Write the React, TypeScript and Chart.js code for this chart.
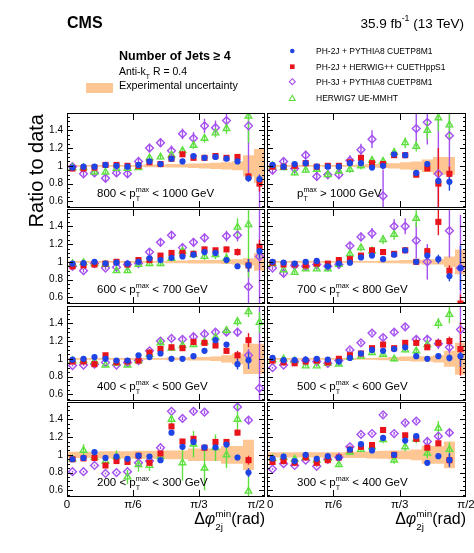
import React, { useEffect, useRef } from 'react';
import { Chart, registerables } from 'chart.js';

Chart.register(...registerables);

const W = 474;
const H = 553;
const FONT = '"Liberation Sans", Arial, Helvetica, sans-serif';

// ---------- axes ----------
const binEdgesDeg = [0, 5, 10, 15, 20, 25, 30, 35, 40, 45, 50, 55, 60, 65, 70, 75, 80, 85, 90];
const xTickValues = [0, Math.PI / 6, Math.PI / 3, Math.PI / 2];
const xTickLabels = ['0', 'π/6', 'π/3', 'π/2'];
const yTickValues = [0.6, 0.8, 1, 1.2, 1.4];
const yTickLabels = ['0.6', '0.8', '1', '1.2', '1.4'];
const Y_MIN = 0.525;
const Y_MAX = 1.595;

// ---------- 800 < pT < 1000 ----------
const blue_800 = [0.98, 0.99, 0.99, 1.01, 1.0, 0.99, 1.01, 1.05, 1.02, 1.08, 1.05, 1.11, 1.09, 1.10, 1.08, 1.05, 0.86, 0.85];
const red_800 = [0.97, 0.97, 0.98, 1.01, 1.01, 1.0, 1.0, 1.04, 1.02, 1.08, 1.13, 1.09, 1.09, 1.11, 1.09, 1.10, 0.88, 0.80];
const purple_800 = [0.99, 0.91, 0.92, 0.86, 0.92, 0.91, 1.05, 1.20, 1.26, 1.17, 1.36, 1.31, 1.45, 1.43, 1.51, null, 1.45, 0.45];
const green_800 = [0.98, 0.98, 0.93, 0.93, 0.97, 0.97, 0.98, 1.09, 1.10, 1.12, 1.17, 1.23, 1.31, 1.37, 1.42, null, 1.56, null];
const eBlue_800 = [0.01, 0.01, 0.01, 0.01, 0.01, 0.01, 0.01, 0.01, 0.015, 0.015, 0.015, 0.02, 0.02, 0.02, 0.02, 0.02, 0.04, 0.05];
const eRed_800 = [0.01, 0.01, 0.01, 0.01, 0.01, 0.01, 0.01, 0.01, 0.015, 0.015, 0.015, 0.02, 0.02, 0.02, 0.02, 0.02, 0.04, 0.09];
const ePurple_800 = [0.02, 0.03, 0.03, 0.04, 0.04, 0.04, 0.04, 0.05, 0.05, 0.06, 0.06, 0.07, 0.08, 0.08, 0.09, 0, 0.6, 0.45];
const eGreen_800 = [0.02, 0.02, 0.02, 0.02, 0.02, 0.02, 0.02, 0.03, 0.03, 0.04, 0.04, 0.04, 0.05, 0.05, 0.06, 0, 0.3, 0];
const band_800 = [0.01, 0.01, 0.01, 0.01, 0.01, 0.01, 0.01, 0.015, 0.015, 0.02, 0.02, 0.025, 0.03, 0.035, 0.04, 0.05, 0.12, 0.19];

// ---------- pT > 1000 ----------
const blue_1000 = [1.01, 0.99, 1.02, 1.03, 0.99, 0.99, 0.99, 1.03, 1.03, 0.98, 1.0, 1.13, 1.12, 0.92, 1.02, 0.83, 0.82, null];
const red_1000 = [0.99, 0.99, 1.0, 1.03, 0.99, 1.0, 1.0, 1.04, 1.09, 1.03, 1.02, 1.12, 1.12, 0.9, 0.97, 0.8, 0.91, null];
const purple_1000 = [0.95, 1.05, 0.97, 1.12, 0.88, 0.9, 0.9, 1.06, 1.18, 1.30, 0.66, null, null, 1.42, 1.49, 0.91, 1.34, null];
const green_1000 = [1.0, 0.98, 0.92, 0.95, 0.96, 0.9, 0.94, 0.96, 1.0, 1.06, 1.05, 1.15, 1.26, 1.22, 1.40, 1.54, 1.46, null];
const eBlue_1000 = [0.01, 0.01, 0.01, 0.01, 0.015, 0.015, 0.015, 0.015, 0.02, 0.02, 0.02, 0.02, 0.02, 0.025, 0.03, 0.04, 0.1, 0];
const eRed_1000 = [0.01, 0.01, 0.01, 0.01, 0.015, 0.015, 0.015, 0.015, 0.02, 0.02, 0.02, 0.02, 0.02, 0.025, 0.03, 0.4, 0.08, 0];
const ePurple_1000 = [0.04, 0.04, 0.04, 0.05, 0.05, 0.05, 0.05, 0.06, 0.07, 0.1, 0.3, 0, 0, 0.2, 0.25, 0.8, 0.4, 0];
const eGreen_1000 = [0.03, 0.03, 0.03, 0.03, 0.03, 0.03, 0.03, 0.04, 0.04, 0.05, 0.05, 0.05, 0.06, 0.06, 0.1, 0.15, 0.15, 0];
const band_1000 = [0.01, 0.01, 0.01, 0.01, 0.01, 0.01, 0.01, 0.01, 0.015, 0.02, 0.025, 0.03, 0.04, 0.05, 0.07, 0.1, 0.1, null];

// ---------- 600 < pT < 700 ----------
const blue_600 = [0.98, 0.985, 1.0, 0.98, 0.99, 0.98, 1.0, 1.04, 1.02, 1.045, 1.06, 1.08, 1.11, 1.10, 1.02, 0.95, 0.96, 1.12];
const red_600 = [0.95, 0.96, 0.97, 0.98, 1.0, 0.97, 1.02, 1.02, 1.07, 1.10, 1.10, 1.09, 1.14, 1.13, 1.14, 1.11, 0.96, 1.17];
const purple_600 = [0.95, 0.9, 0.98, 0.93, 0.94, 0.97, 0.98, 1.11, 1.22, 1.30, 1.16, 1.22, 1.27, null, 1.29, 1.30, 0.72, 1.06];
const green_600 = [0.98, 0.99, 0.98, 0.97, 0.9, 0.9, 0.97, 0.98, 0.98, 1.04, 1.12, 1.08, 1.06, 1.08, 1.04, 1.39, 1.42, null];
const eBlue_600 = [0.01, 0.01, 0.01, 0.01, 0.01, 0.01, 0.01, 0.015, 0.015, 0.015, 0.015, 0.02, 0.02, 0.02, 0.02, 0.03, 0.07, 0.08];
const eRed_600 = [0.01, 0.01, 0.01, 0.01, 0.01, 0.01, 0.01, 0.015, 0.015, 0.015, 0.015, 0.02, 0.02, 0.02, 0.03, 0.04, 0.07, 0.08];
const ePurple_600 = [0.02, 0.02, 0.02, 0.02, 0.03, 0.03, 0.03, 0.04, 0.04, 0.04, 0.05, 0.05, 0.05, 0, 0.06, 0.07, 0.25, 0.6];
const eGreen_600 = [0.02, 0.02, 0.02, 0.02, 0.02, 0.02, 0.02, 0.03, 0.03, 0.03, 0.04, 0.04, 0.04, 0.05, 0.06, 0.1, 0.6, 0];
const band_600 = [0.01, 0.01, 0.01, 0.01, 0.01, 0.01, 0.01, 0.01, 0.01, 0.015, 0.015, 0.02, 0.02, 0.02, 0.025, 0.03, 0.04, 0.1];

// ---------- 700 < pT < 800 ----------
const blue_700 = [1.0, 0.99, 0.98, 1.0, 1.01, 0.95, 0.98, 0.99, 1.05, 1.07, 1.03, 1.08, 1.13, 1.0, 1.07, 1.03, 0.84, 0.93];
const red_700 = [0.99, 0.97, 0.97, 0.96, 0.98, 0.98, 1.02, 1.03, 1.07, 1.13, 1.11, 1.09, 1.13, 1.0, 1.12, 1.45, 0.90, 0.53];
const purple_700 = [0.93, 0.87, 0.96, 0.95, 0.97, 0.95, 0.97, 1.18, 1.28, 1.32, null, 1.40, 1.40, 1.24, 1.0, null, 1.35, 0.93];
const green_700 = [0.98, 0.91, 0.88, 0.92, 0.92, 0.92, 0.97, 1.09, 1.16, 1.12, 1.25, 1.31, null, 1.49, null, null, null, null];
const eBlue_700 = [0.01, 0.01, 0.01, 0.01, 0.01, 0.015, 0.015, 0.015, 0.015, 0.02, 0.02, 0.02, 0.02, 0.03, 0.04, 0.05, 0.06, 0.25];
const eRed_700 = [0.01, 0.01, 0.01, 0.01, 0.01, 0.015, 0.015, 0.015, 0.015, 0.02, 0.02, 0.02, 0.02, 0.03, 0.04, 0.15, 0.06, 0.1];
const ePurple_700 = [0.02, 0.03, 0.03, 0.03, 0.03, 0.03, 0.04, 0.05, 0.05, 0.06, 0, 0.08, 0.09, 0.2, 0.2, 0, 0.3, 0.6];
const eGreen_700 = [0.02, 0.02, 0.02, 0.02, 0.02, 0.03, 0.03, 0.04, 0.04, 0.05, 0.05, 0.06, 0, 0.1, 0, 0, 0, 0];
const band_700 = [0.01, 0.01, 0.01, 0.01, 0.01, 0.01, 0.01, 0.01, 0.01, 0.01, 0.015, 0.015, 0.02, 0.02, 0.03, 0.03, 0.06, 0.14];

// ---------- 400 < pT < 500 ----------
const blue_400 = [0.99, 1.0, 1.02, 1.0, 0.98, 0.98, 1.04, 1.02, 1.06, 1.0, 1.0, 1.03, 1.09, 1.21, 1.16, 0.94, 0.985, null];
const red_400 = [0.97, 0.97, 0.94, 1.04, 0.96, 0.97, 0.98, 1.07, 1.11, 1.13, 1.12, 1.19, 1.18, 1.15, 1.09, 1.04, 1.21, null];
const purple_400 = [0.925, 0.93, 0.94, 0.96, 0.93, 0.96, 0.98, 1.09, 1.2, 1.23, 1.22, 1.25, 1.28, 1.3, 1.3, 1.3, 1.04, 0.67];
const green_400 = [0.98, 0.98, 0.97, 0.93, 0.95, 0.93, 0.98, 1.05, 1.18, 1.12, 1.15, 1.16, 1.19, 1.24, 1.32, 1.42, 1.53, 1.41];
const eBlue_400 = [0.01, 0.01, 0.01, 0.01, 0.01, 0.01, 0.01, 0.01, 0.015, 0.015, 0.015, 0.02, 0.02, 0.02, 0.03, 0.06, 0.1, 0];
const eRed_400 = [0.01, 0.01, 0.01, 0.01, 0.01, 0.01, 0.01, 0.01, 0.015, 0.015, 0.015, 0.02, 0.02, 0.02, 0.03, 0.05, 0.08, 0];
const ePurple_400 = [0.01, 0.01, 0.01, 0.01, 0.01, 0.02, 0.02, 0.02, 0.02, 0.02, 0.03, 0.03, 0.03, 0.03, 0.04, 0.05, 0.07, 0.95];
const eGreen_400 = [0.01, 0.01, 0.01, 0.01, 0.01, 0.02, 0.02, 0.02, 0.02, 0.03, 0.03, 0.03, 0.03, 0.04, 0.04, 0.05, 0.06, 0.12];
const band_400 = [0.01, 0.01, 0.01, 0.01, 0.01, 0.01, 0.01, 0.01, 0.01, 0.015, 0.015, 0.02, 0.02, 0.025, 0.04, 0.06, 0.17, 0.17];

// ---------- 500 < pT < 600 ----------
const blue_500 = [1.01, 0.985, 0.985, 0.99, 1.0, 0.99, 0.97, 1.01, 1.06, 1.1, 1.09, 1.11, 1.13, 1.03, 1.0, 1.03, 1.01, 1.03];
const red_500 = [0.98, 0.96, 0.95, 0.97, 0.98, 0.96, 1.0, 1.04, 1.06, 1.12, 1.16, 1.12, 1.18, 1.18, 1.13, 1.18, 1.2, 1.11];
const purple_500 = [0.9, 0.93, 0.97, 0.98, 0.97, 0.95, 0.98, 1.1, 1.18, 1.29, 1.24, 1.3, 1.36, 1.22, 1.22, 1.17, 1.13, 1.33];
const green_500 = [0.99, 1.0, 0.98, 0.92, 0.92, 0.95, 0.94, 1.02, 1.03, 1.07, 1.05, 1.0, 1.1, 1.09, 1.16, 1.4, 1.5, null];
const eBlue_500 = [0.01, 0.01, 0.01, 0.01, 0.01, 0.01, 0.01, 0.01, 0.01, 0.015, 0.015, 0.015, 0.02, 0.02, 0.02, 0.03, 0.04, 0.12];
const eRed_500 = [0.01, 0.01, 0.01, 0.01, 0.01, 0.01, 0.01, 0.01, 0.01, 0.015, 0.015, 0.015, 0.02, 0.02, 0.03, 0.04, 0.05, 0.3];
const ePurple_500 = [0.01, 0.01, 0.01, 0.01, 0.01, 0.02, 0.02, 0.02, 0.02, 0.02, 0.03, 0.03, 0.03, 0.04, 0.05, 0.06, 0.07, 0.3];
const eGreen_500 = [0.01, 0.01, 0.01, 0.01, 0.01, 0.02, 0.02, 0.02, 0.02, 0.02, 0.03, 0.03, 0.03, 0.04, 0.05, 0.06, 0.1, 0];
const band_500 = [0.01, 0.01, 0.01, 0.01, 0.01, 0.01, 0.01, 0.01, 0.01, 0.01, 0.015, 0.02, 0.025, 0.03, 0.03, 0.04, 0.09, 0.18];

// ---------- 200 < pT < 300 ----------
const blue_200 = [0.95, 0.965, 1.03, 0.965, 0.98, 0.955, 0.99, 0.98, 0.94, 1.25, 1.09, 1.145, 1.085, 1.085, 1.115, 0.97, 0.8, null];
const red_200 = [0.95, 0.96, 0.965, 0.88, 0.93, 0.92, 0.99, 0.91, 1.015, 1.32, 1.15, 1.18, 1.08, 1.145, 1.145, 1.25, 0.94, null];
const purple_200 = [0.81, 0.81, 0.88, 0.79, 0.8, 0.81, 0.91, 0.93, 1.08, 1.49, 1.41, 1.49, 1.48, null, null, 1.54, 1.39, null];
const green_200 = [0.95, 1.05, 0.97, 0.93, 0.98, 0.75, 0.89, 0.88, 0.98, 1.40, 0.91, 1.12, 0.85, 1.08, 1.0, 1.40, 0.59, null];
const eBlue_200 = [0.01, 0.01, 0.01, 0.01, 0.01, 0.01, 0.01, 0.01, 0.015, 0.015, 0.015, 0.015, 0.02, 0.02, 0.02, 0.03, 0.05, 0];
const eRed_200 = [0.01, 0.01, 0.01, 0.01, 0.01, 0.01, 0.01, 0.01, 0.015, 0.015, 0.02, 0.02, 0.02, 0.02, 0.02, 0.03, 0.05, 0];
const ePurple_200 = [0.01, 0.01, 0.01, 0.01, 0.01, 0.01, 0.01, 0.01, 0.015, 0.015, 0.02, 0.02, 0.02, 0, 0, 0.03, 0.03, 0];
const eGreen_200 = [0.02, 0.07, 0.03, 0.03, 0.07, 0.08, 0.08, 0.06, 0.05, 0.06, 0.2, 0.15, 0.25, 0.15, 0.15, 0.18, 0.25, 0];
const band_200 = [0.035, 0.035, 0.035, 0.04, 0.04, 0.04, 0.045, 0.045, 0.045, 0.05, 0.05, 0.07, 0.07, 0.07, 0.1, 0.1, 0.17, null];

// ---------- 300 < pT < 400 ----------
const blue_300 = [0.96, 0.98, 0.93, 1.0, 0.955, 0.985, 0.97, 1.06, 1.12, 1.05, 1.19, 1.0, 1.16, 1.21, 0.91, 0.985, 0.94, null];
const red_300 = [0.92, 0.93, 0.91, 0.97, 0.91, 0.94, 0.97, 1.06, 1.09, 1.11, 1.28, 1.0, 1.22, 1.18, 1.08, 1.13, 0.94, null];
const purple_300 = [0.84, 0.9, 0.88, 0.94, 0.87, 0.95, 0.97, 1.09, 1.23, 1.24, 1.45, 1.24, 1.36, 1.38, 1.15, 1.21, 1.25, null];
const green_300 = [0.96, 0.97, 0.95, 0.97, 0.94, 0.96, 0.89, 1.03, 1.06, 1.09, 1.17, 0.94, 1.09, 1.18, 1.02, 1.3, 1.06, null];
const eBlue_300 = [0.01, 0.01, 0.01, 0.01, 0.01, 0.01, 0.01, 0.01, 0.015, 0.015, 0.015, 0.015, 0.02, 0.02, 0.03, 0.03, 0.08, 0];
const eRed_300 = [0.01, 0.01, 0.01, 0.01, 0.01, 0.01, 0.01, 0.01, 0.015, 0.015, 0.015, 0.015, 0.02, 0.02, 0.03, 0.03, 0.06, 0];
const ePurple_300 = [0.01, 0.01, 0.01, 0.01, 0.01, 0.01, 0.01, 0.015, 0.015, 0.015, 0.02, 0.02, 0.02, 0.02, 0.03, 0.04, 0.04, 0];
const eGreen_300 = [0.02, 0.02, 0.02, 0.02, 0.02, 0.02, 0.03, 0.03, 0.03, 0.03, 0.04, 0.04, 0.05, 0.05, 0.06, 0.08, 0.08, 0];
const band_300 = [0.03, 0.03, 0.03, 0.03, 0.03, 0.03, 0.03, 0.035, 0.035, 0.04, 0.045, 0.05, 0.05, 0.06, 0.1, 0.1, 0.15, null];

// ---------- legend ----------
const seriesNames = [
  'PH-2J + PYTHIA8 CUETP8M1',
  'PH-2J + HERWIG++ CUETHppS1',
  'PH-3J + PYTHIA8 CUETP8M1',
  'HERWIG7 UE-MMHT',
];
const COLORS = {
  blue: '#1f44e6',
  red: '#e8131b',
  purple: '#a44ff0',
  green: '#5ee040',
  band: '#fdc692',
};

// ---------- layout ----------
const COL_X = [
  [67, 265],
  [267, 466],
];
const ROW_Y = [
  [113, 208],
  [209, 304],
  [306, 401],
  [402, 497],
];

const panels = [
  { row: 0, col: 0, pre: '800 < ', post: ' < 1000 GeV', blue: blue_800, red: red_800, purple: purple_800, green: green_800, eb: eBlue_800, er: eRed_800, ep: ePurple_800, eg: eGreen_800, band: band_800 },
  { row: 0, col: 1, pre: '', post: ' > 1000 GeV', blue: blue_1000, red: red_1000, purple: purple_1000, green: green_1000, eb: eBlue_1000, er: eRed_1000, ep: ePurple_1000, eg: eGreen_1000, band: band_1000 },
  { row: 1, col: 0, pre: '600 < ', post: ' < 700 GeV', blue: blue_600, red: red_600, purple: purple_600, green: green_600, eb: eBlue_600, er: eRed_600, ep: ePurple_600, eg: eGreen_600, band: band_600 },
  { row: 1, col: 1, pre: '700 < ', post: ' < 800 GeV', blue: blue_700, red: red_700, purple: purple_700, green: green_700, eb: eBlue_700, er: eRed_700, ep: ePurple_700, eg: eGreen_700, band: band_700 },
  { row: 2, col: 0, pre: '400 < ', post: ' < 500 GeV', blue: blue_400, red: red_400, purple: purple_400, green: green_400, eb: eBlue_400, er: eRed_400, ep: ePurple_400, eg: eGreen_400, band: band_400 },
  { row: 2, col: 1, pre: '500 < ', post: ' < 600 GeV', blue: blue_500, red: red_500, purple: purple_500, green: green_500, eb: eBlue_500, er: eRed_500, ep: ePurple_500, eg: eGreen_500, band: band_500 },
  { row: 3, col: 0, pre: '200 < ', post: ' < 300 GeV', blue: blue_200, red: red_200, purple: purple_200, green: green_200, eb: eBlue_200, er: eRed_200, ep: ePurple_200, eg: eGreen_200, band: band_200 },
  { row: 3, col: 1, pre: '300 < ', post: ' < 400 GeV', blue: blue_300, red: red_300, purple: purple_300, green: green_300, eb: eBlue_300, er: eRed_300, ep: ePurple_300, eg: eGreen_300, band: band_300 },
];

const toRad = (d: number) => (d * Math.PI) / 180;

function points(vals: (number | null)[], errs: number[]) {
  const out: any[] = [];
  vals.forEach((v, i) => {
    if (v == null) return;
    out.push({ x: toRad((binEdgesDeg[i] + binEdgesDeg[i + 1]) / 2), y: v, e: errs[i] });
  });
  return out;
}

function bandPoints(hw: (number | null)[], sign: number) {
  const out: any[] = [];
  hw.forEach((h, i) => {
    const lo = toRad(binEdgesDeg[i]);
    const hi = toRad(binEdgesDeg[i + 1]);
    if (h == null) {
      out.push({ x: lo, y: null }, { x: hi, y: null });
    } else {
      out.push({ x: lo, y: 1 + sign * h }, { x: hi, y: 1 + sign * h });
    }
  });
  return out;
}

const errorBarPlugin = {
  id: 'errbars',
  beforeDatasetsDraw(chart: any) {
    const { ctx, chartArea: a, scales } = chart;
    const xs = scales.x;
    const ys = scales.y;
    ctx.save();
    ctx.beginPath();
    ctx.rect(a.left, a.top, a.right - a.left, a.bottom - a.top);
    ctx.clip();
    const dsets = chart.data.datasets;
    for (let k = dsets.length - 1; k >= 0; k--) {
      const ds = dsets[k];
      if (!ds.errBar) continue;
      ctx.strokeStyle = ds.borderColor;
      ctx.lineWidth = 1.4;
      ds.data.forEach((pt: any) => {
        if (!pt.e) return;
        const px = xs.getPixelForValue(pt.x);
        ctx.beginPath();
        ctx.moveTo(px, ys.getPixelForValue(pt.y - pt.e));
        ctx.lineTo(px, ys.getPixelForValue(pt.y + pt.e));
        ctx.stroke();
      });
    }
    ctx.restore();
  },
};

const framePlugin = {
  id: 'frame',
  afterDraw(chart: any, _args: any, opts: any) {
    const { ctx, chartArea: a, scales } = chart;
    const xs = scales.x;
    const ys = scales.y;
    ctx.save();
    ctx.strokeStyle = '#000';
    ctx.lineWidth = 1;
    ctx.strokeRect(a.left + 0.5, a.top + 0.5, a.right - a.left - 1, a.bottom - a.top - 1);
    ctx.beginPath();
    for (let k = 11; k <= 31; k++) {
      const v = k * 0.05;
      if (v < Y_MIN || v > Y_MAX) continue;
      const py = Math.round(ys.getPixelForValue(v)) + 0.5;
      const major = k % 4 === 0;
      const len = major ? 6 : 3;
      ctx.moveTo(a.left, py);
      ctx.lineTo(a.left + len, py);
      ctx.moveTo(a.right, py);
      ctx.lineTo(a.right - len, py);
    }
    xTickValues.forEach((v, i) => {
      if (i === 0 || i === xTickValues.length - 1) return;
      const px = Math.round(xs.getPixelForValue(v)) + 0.5;
      ctx.moveTo(px, a.bottom);
      ctx.lineTo(px, a.bottom - 7);
      ctx.moveTo(px, a.top);
      ctx.lineTo(px, a.top + 7);
    });
    ctx.stroke();

    ctx.fillStyle = '#000';
    if (opts.showY) {
      ctx.font = `10px ${FONT}`;
      ctx.textAlign = 'right';
      ctx.textBaseline = 'middle';
      yTickValues.forEach((v, i) => {
        ctx.fillText(yTickLabels[i], a.left - 4, ys.getPixelForValue(v));
      });
    }
    if (opts.showX) {
      ctx.font = `11.5px ${FONT}`;
      ctx.textBaseline = 'middle';
      xTickValues.forEach((v, i) => {
        const px = xs.getPixelForValue(v);
        if (opts.col === 0 && i === xTickValues.length - 1) {
          ctx.textAlign = 'right';
        } else if (opts.col === 1 && i === 0) {
          ctx.textAlign = 'left';
        } else {
          ctx.textAlign = 'center';
        }
        ctx.fillText(xTickLabels[i], px, a.bottom + 8);
      });
    }
    ctx.restore();
  },
};

function Panel({ p }: { p: any }) {
  const ref = useRef<HTMLCanvasElement>(null);
  useEffect(() => {
    const [x0, x1] = COL_X[p.col];
    const [y0, y1] = ROW_Y[p.row];
    const marker = (label: string, data: any[], color: string, style: string, radius: number, filled: boolean) => ({
      label,
      data,
      type: 'scatter',
      errBar: true,
      pointStyle: style,
      pointRadius: radius,
      pointHoverRadius: radius,
      borderColor: color,
      backgroundColor: filled ? color : 'rgba(0,0,0,0)',
      pointBorderWidth: filled ? 0 : 1.4,
      borderWidth: filled ? 0 : 1.4,
      showLine: false,
    });
    const chart = new Chart(ref.current as HTMLCanvasElement, {
      type: 'scatter',
      data: {
        datasets: [
          marker(seriesNames[0], points(p.blue, p.eb), COLORS.blue, 'circle', 3.1, true),
          marker(seriesNames[1], points(p.red, p.er), COLORS.red, 'rect', 4.3, true),
          marker(seriesNames[3], points(p.green, p.eg), COLORS.green, 'triangle', 3.8, false),
          marker(seriesNames[2], points(p.purple, p.ep), COLORS.purple, 'rectRot', 3.9, false),
          {
            label: 'Experimental uncertainty',
            type: 'line',
            data: bandPoints(p.band, 1),
            borderColor: 'rgba(0,0,0,0)',
            borderWidth: 0,
            pointRadius: 0,
            backgroundColor: COLORS.band,
            fill: '+1',
            spanGaps: false,
            tension: 0,
          },
          {
            label: 'band-low',
            type: 'line',
            data: bandPoints(p.band, -1),
            borderColor: 'rgba(0,0,0,0)',
            borderWidth: 0,
            pointRadius: 0,
            fill: false,
            spanGaps: false,
            tension: 0,
          },
        ] as any,
      },
      options: {
        animation: false,
        responsive: false,
        devicePixelRatio: 1,
        events: [],
        layout: { padding: { left: x0, top: y0, right: W - x1, bottom: H - y1 } },
        scales: {
          x: { type: 'linear', min: 0, max: Math.PI / 2, display: false },
          y: { type: 'linear', min: Y_MIN, max: Y_MAX, display: false },
        },
        plugins: {
          legend: { display: false },
          tooltip: { enabled: false },
          filler: { drawTime: 'beforeDatasetsDraw' },
          frame: { showY: p.col === 0, showX: p.row === 3, col: p.col },
        } as any,
      },
      plugins: [errorBarPlugin, framePlugin],
    } as any);
    return () => chart.destroy();
  }, [p]);
  return <canvas ref={ref} width={W} height={H} style={{ position: 'absolute', left: 0, top: 0, width: W, height: H }} />;
}

function Txt({ x, base, size, bold, align, children }: any) {
  const st: any = {
    position: 'absolute',
    top: base - 0.8465 * size,
    fontSize: size,
    lineHeight: 1,
    whiteSpace: 'nowrap',
    fontWeight: bold ? 'bold' : 'normal',
    fontFamily: FONT,
    color: '#000',
  };
  if (align === 'right') st.right = W - x;
  else st.left = x;
  return <div style={st}>{children}</div>;
}

function SubSup({ sub, sup, scale = 0.62 }: any) {
  const wide = (sup || '').length >= (sub || '').length ? sup : sub;
  return (
    <span style={{ position: 'relative', display: 'inline-block', fontSize: `${scale}em`, lineHeight: 1 }}>
      <span style={{ visibility: 'hidden' }}>{wide}</span>
      {sup ? <span style={{ position: 'absolute', left: 0, top: '-0.75em' }}>{sup}</span> : null}
      {sub ? <span style={{ position: 'absolute', left: 0, top: '0.55em' }}>{sub}</span> : null}
    </span>
  );
}

const legendY = [51, 66.7, 81.7, 98.3];

export default function App() {
  return (
    <div style={{ position: 'absolute', left: 0, top: 0, width: W, height: H, background: '#fff', overflow: 'hidden', fontFamily: FONT }}>
      {panels.map((p, i) => (
        <Panel key={i} p={p} />
      ))}
      <svg width={W} height={H} style={{ position: 'absolute', left: 0, top: 0 }}>
        <rect x={86} y={83} width={27} height={10} fill={COLORS.band} />
        <circle cx={292.3} cy={legendY[0]} r={2.3} fill={COLORS.blue} />
        <rect x={290} y={legendY[1] - 2.3} width={4.6} height={4.6} fill={COLORS.red} />
        <path d={`M292.3 ${legendY[2] - 3} L295.3 ${legendY[2]} L292.3 ${legendY[2] + 3} L289.3 ${legendY[2]} Z`} fill="none" stroke={COLORS.purple} strokeWidth={1.1} />
        <path d={`M292.3 ${legendY[3] - 3} L295.3 ${legendY[3] + 2.2} L289.3 ${legendY[3] + 2.2} Z`} fill="none" stroke={COLORS.green} strokeWidth={1.1} />
      </svg>
      <Txt x={67} base={28.3} size={16} bold>CMS</Txt>
      <Txt x={464} base={28.3} size={13.5} align="right">
        35.9 fb<SubSup sup="-1" scale={0.65} /> (13 TeV)
      </Txt>
      <Txt x={119} base={60.7} size={12.5} bold>Number of Jets ≥ 4</Txt>
      <Txt x={119} base={75} size={10.5}>
        Anti-k<SubSup sub="T" scale={0.65} /> R = 0.4
      </Txt>
      <Txt x={119} base={89.3} size={10.8}>Experimental uncertainty</Txt>
      {seriesNames.map((s, i) => (
        <Txt key={s} x={316} base={legendY[i] + 3} size={8.5}>{s}</Txt>
      ))}
      {panels.map((p, i) => (
        <Txt key={'lab' + i} x={COL_X[p.col][0] + 30} base={ROW_Y[p.row][0] + 85} size={11.5}>
          {p.pre}p<SubSup sub="T" sup="max" />{p.post}
        </Txt>
      ))}
      {COL_X.map((c, i) => (
        <Txt key={'xt' + i} x={c[1]} base={525} size={16} align="right">
          Δ<i>φ</i><SubSup sub="2j" sup="min" />(rad)
        </Txt>
      ))}
      <div
        style={{
          position: 'absolute',
          left: 26,
          top: 114,
          writingMode: 'vertical-rl',
          transform: 'rotate(180deg)',
          fontSize: 20,
          lineHeight: 1,
          whiteSpace: 'nowrap',
          fontFamily: FONT,
        }}
      >
        Ratio to data
      </div>
    </div>
  );
}
